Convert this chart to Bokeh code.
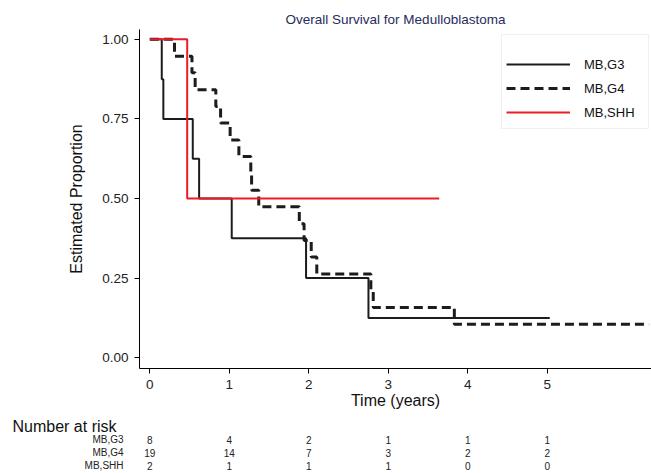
from bokeh.plotting import figure
from bokeh.models import Range1d, FixedTicker, Legend, LegendItem, NumeralTickFormatter
from bokeh.core.properties import value
from bokeh.embed import file_html
from bokeh.resources import INLINE

# ---------------- data ----------------
title_text = "Overall Survival for Medulloblastoma"
groups = ["MB,G3", "MB,G4", "MB,SHH"]

g3_time = [0, 0.15, 0.17, 0.54, 0.62, 1.03, 1.965, 2.75, 5.03]
g3_surv = [1.0, 0.875, 0.75, 0.625, 0.5, 0.375, 0.25, 0.125, 0.125]

g4_time = [0, 0.31, 0.53, 0.57, 0.83, 0.89, 1.01, 1.12, 1.27, 1.28, 1.37,
           1.88, 1.94, 2.03, 2.10, 2.78, 2.81, 3.83, 6.28]
g4_surv = [1.0, 0.947, 0.895, 0.842, 0.789, 0.737, 0.684, 0.632, 0.579, 0.526, 0.474,
           0.421, 0.368, 0.316, 0.263, 0.211, 0.158, 0.105, 0.105]

shh_time = [0, 0.47, 3.64]
shh_surv = [1.0, 0.5, 0.5]

year_ticks = [0, 1, 2, 3, 4, 5]
prop_ticks = [0, 0.25, 0.5, 0.75, 1.0]

risk_g3 = [8, 4, 2, 1, 1, 1]
risk_g4 = [19, 14, 7, 3, 2, 2]
risk_shh = [2, 1, 1, 1, 0, 0]

# ---------------- styling ----------------
FONT = "Liberation Sans"
W = 651
H1, H2 = 411, 62
LEFT, TOP = 139, 29
BOTTOM = H1 - 368
X0, X1 = -0.13, 6.31
Y0, Y1 = -0.034, 1.031
BLACK = "#1c1c1c"
RED = "#ec1c24"

p = figure(width=W, height=H1, x_range=Range1d(X0, X1), y_range=Range1d(Y0, Y1),
           output_backend="svg", toolbar_location=None,
           min_border_left=LEFT, min_border_right=0, min_border_bottom=BOTTOM, min_border_top=TOP,
           title=title_text)
p.title.text_font = FONT
p.title.text_font_size = "13.5px"
p.title.text_font_style = "normal"
p.title.text_color = "#1f2d5c"
p.title.align = "center"
p.title.standoff = 6

p.outline_line_color = None
p.xgrid.visible = False
p.ygrid.visible = False

r3 = p.step(g3_time, g3_surv, mode="after", line_color=BLACK, line_width=2)
r4 = p.step(g4_time, g4_surv, mode="after", line_color=BLACK, line_width=3, line_dash="9 5")
rs = p.step(shh_time, shh_surv, mode="after", line_color=RED, line_width=2)

for ax in (p.xaxis[0], p.yaxis[0]):
    ax.axis_line_color = "black"
    ax.major_tick_line_color = "black"
    ax.major_tick_in = 0
    ax.major_tick_out = 5
    ax.minor_tick_out = 0
    ax.minor_tick_in = 0
    ax.major_label_text_font = FONT
    ax.major_label_text_font_size = "13.5px"
    ax.major_label_text_color = "#222222"
    ax.axis_label_text_font = FONT
    ax.axis_label_text_font_size = "16px"
    ax.axis_label_text_font_style = "normal"
    ax.axis_label_text_color = "#111111"

p.xaxis.ticker = FixedTicker(ticks=year_ticks)
p.yaxis.ticker = FixedTicker(ticks=prop_ticks)
p.yaxis.formatter = NumeralTickFormatter(format="0.00")
p.xaxis.axis_label = "Time (years)"
p.yaxis.axis_label = "Estimated Proportion"
p.xaxis.major_label_standoff = 6
p.xaxis.axis_label_standoff = 0
p.yaxis.major_label_standoff = 6
p.yaxis.axis_label_standoff = 14

legend = Legend(items=[LegendItem(label=groups[0], renderers=[r3]),
                       LegendItem(label=groups[1], renderers=[r4]),
                       LegendItem(label=groups[2], renderers=[rs])],
                location=(362, 239))
legend.title = " "
legend.title_text_font_size = "8px"
legend.title_standoff = 4
legend.padding = 4
legend.spacing = 0
legend.glyph_width = 64
legend.glyph_height = 24
legend.label_height = 24
legend.label_standoff = 14
legend.label_width = 60
legend.label_text_font = FONT
legend.label_text_font_size = "13px"
legend.label_text_color = "#111111"
legend.border_line_color = "#e2e2e2"
legend.border_line_width = 1
legend.background_fill_color = "white"
legend.background_fill_alpha = 1
p.add_layout(legend)

# ---------------- number-at-risk table: second root, same horizontal scale ----------------
scale = (W - LEFT) / (X1 - X0)          # px per year
T0 = X0 - LEFT / scale                  # data x at page left edge
ROW = 13.0
TOP_OFF = 15.0                           # header centre below table top
p2 = figure(width=W, height=H2, x_range=Range1d(T0, X1),
            y_range=Range1d((H2 - TOP_OFF) / ROW, -TOP_OFF / ROW),
            x_axis_type=None, y_axis_type=None,
            output_backend="svg", toolbar_location=None,
            min_border_left=0, min_border_right=0, min_border_top=0, min_border_bottom=0)
p2.grid.visible = False
p2.outline_line_color = None

p2.text(x=[T0 + 12 / scale], y=[0], text=["Number at risk"], text_font=value(FONT),
        text_font_size="16px", text_align="left", text_baseline="middle", text_color="#111111")

p2.text(x=[T0 + 123 / scale] * 3, y=[1, 2, 3], text=groups, text_font=value(FONT),
        text_font_size="10px", text_align="right", text_baseline="middle", text_color="#222222")

xs, ys, ts = [], [], []
for i, row in enumerate([risk_g3, risk_g4, risk_shh]):
    for t, n in zip(year_ticks, row):
        xs.append(t)
        ys.append(i + 1)
        ts.append(str(n))
p2.text(x=xs, y=ys, text=ts, text_font=value(FONT), text_font_size="10px",
        text_align="center", text_baseline="middle", text_color="#222222")

open("out.html", "w").write(file_html([p, p2], INLINE))
